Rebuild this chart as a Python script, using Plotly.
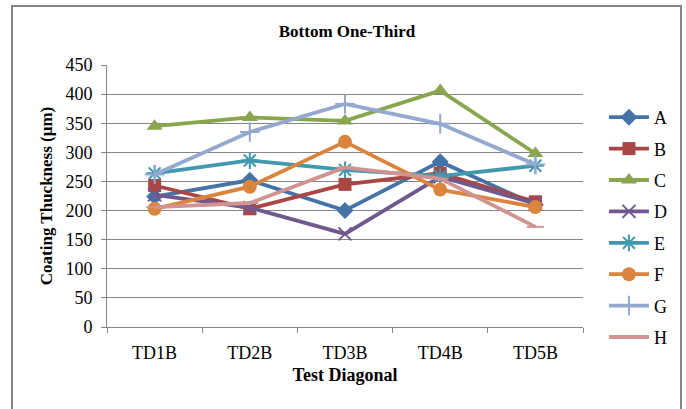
import plotly.graph_objects as go

categories = ["TD1B", "TD2B", "TD3B", "TD4B", "TD5B"]
series_names = ["A", "B", "C", "D", "E", "F", "G", "H"]
A = [224, 252, 200, 284, 210]
B = [243, 203, 245, 264, 215]
C = [345, 360, 354, 406, 298]
D = [227, 205, 160, 258, 212]
E = [264, 286, 270, 259, 277]
F = [203, 241, 318, 236, 206]
G = [262, 335, 383, 349, 279]
H = [206, 213, 274, 255, 172]
values = [A, B, C, D, E, F, G, H]
y_ticks = [0, 50, 100, 150, 200, 250, 300, 350, 400, 450]

colors = ["#4572A7", "#AA4643", "#89A54E", "#71588F", "#4198AF", "#DB843D", "#93A9CF", "#D19392"]
symbols = ["diamond", "square", "triangle-up", "x-thin-open", "asterisk-open", "circle", "cross-thin-open", "line-ew-open"]
sizes = [13, 13, 14, 13, 14, 14, 14, 12]

ff = "Liberation Serif"
x_idx = list(range(len(categories)))
fig = go.Figure()
for i, (name, vals) in enumerate(zip(series_names, values)):
    open_sym = symbols[i].endswith("open")
    fig.add_trace(go.Scatter(
        x=x_idx, y=vals, name=name, mode="lines+markers",
        legendgroup=name,
        line=dict(color=colors[i], width=3.8),
        marker=dict(symbol=symbols[i], size=sizes[i], color=colors[i],
                    line=dict(color=colors[i], width=2 if open_sym else 0)),
    ))

# hidden trace on secondary x axis to draw category boundary ticks
fig.add_trace(go.Scatter(x=[-0.5, 4.5], y=[0, 0], xaxis="x2", mode="lines",
                         line=dict(width=0), showlegend=False, hoverinfo="skip"))

fig.update_layout(
    width=686, height=409,
    margin=dict(l=107, r=103, t=65, b=82),
    paper_bgcolor="white", plot_bgcolor="white",
    font=dict(family=ff, size=18, color="black"),
    title=dict(text="<b>Bottom One-Third</b>", x=(347 / 686), xanchor="center",
               y=1 - 31 / 409, yanchor="middle", font=dict(family=ff, size=17)),
    showlegend=True,
    legend=dict(x=1.044, xanchor="left", y=(327 - 99) / 262, yanchor="top",
                font=dict(family=ff, size=18), tracegroupgap=5, traceorder="grouped",
                bgcolor="rgba(0,0,0,0)", itemwidth=40, maxheight=400),
    xaxis=dict(range=[-0.5, 4.5], tickvals=x_idx, ticktext=categories,
               showgrid=False, zeroline=False, showline=True, linecolor="#868686",
               linewidth=1, ticks="", tickfont=dict(family=ff, size=18),
               ticklabelstandoff=9,
               title=dict(text="<b>Test Diagonal</b>", standoff=6, font=dict(family=ff, size=18))),
    xaxis2=dict(overlaying="x", range=[-0.5, 4.5], tickvals=[-0.5, 0.5, 1.5, 2.5, 3.5, 4.5],
                showticklabels=False, ticks="outside", ticklen=5, tickcolor="#868686",
                showgrid=False, zeroline=False, side="bottom", anchor="y"),
    yaxis=dict(range=[0, 450], tickvals=y_ticks, showgrid=True, gridcolor="#868686",
               gridwidth=1, zeroline=False, showline=True, linecolor="#868686",
               ticks="outside", ticklen=5, tickcolor="#868686", tickfont=dict(family=ff, size=18),
               ticklabelstandoff=5,
               title=dict(text="<b>Coating Thuckness (μm)</b>", standoff=8, font=dict(family=ff, size=17))),
    shapes=[dict(type="rect", xref="paper", yref="paper",
                 x0=(12 - 107) / 476, x1=(681 - 107) / 476,
                 y0=(327 - 420) / 262, y1=(327 - 6) / 262,
                 line=dict(color="#868686", width=2), fillcolor="rgba(0,0,0,0)",
                 layer="below")],
)

fig.write_html("out.html")
